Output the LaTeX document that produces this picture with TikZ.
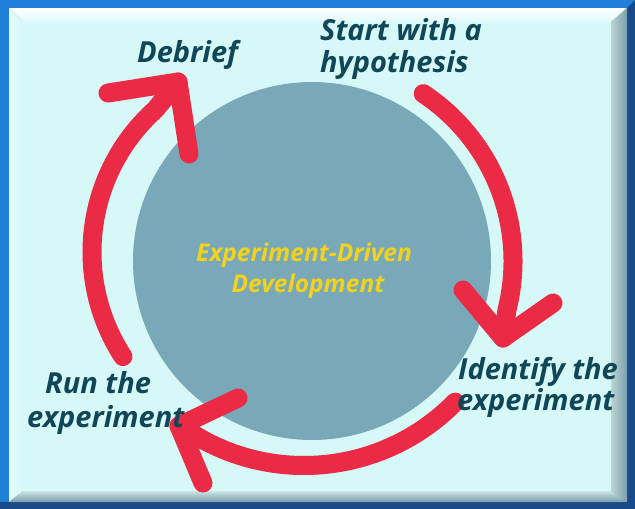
\documentclass[tikz,border=0pt]{standalone}
\usepackage{fontspec}
\setmainfont{Open Sans}
\usetikzlibrary{calc}

\definecolor{framebg}{HTML}{D6F8F7}
\definecolor{rimblue}{HTML}{1F80D8}
\definecolor{rimdark}{HTML}{174A86}
\definecolor{hub}{HTML}{79A9B9}
\definecolor{cyclered}{HTML}{EB2A45}
\definecolor{labeltext}{HTML}{0F4658}
\definecolor{hubtext}{HTML}{F3D21C}

\tikzset{
  stage/.style={font=\bfseries\itshape\fontsize{29}{32}\selectfont, text=labeltext, inner sep=0pt},
  hublabel/.style={font=\bfseries\itshape\fontsize{24.5}{30}\selectfont, text=hubtext, inner sep=0pt},
  cyclearc/.style={draw=cyclered, line width=19pt, line cap=round, line join=round},
}

\begin{document}
\begin{tikzpicture}[x=1pt,y=-1pt]
  \useasboundingbox (0,0) rectangle (635,509);

  % outer rim
  \fill[rimblue] (0,0) rectangle (635,509);
  \fill[rimdark] (635,0) -- (635,509) -- (0,509) -- (0,502) -- (627,502) -- (627,8) -- cycle;
  % bevel
  \shade[top color=white, bottom color=framebg!80!white] (9,8) -- (627,8) -- (611,22) -- (23,22) -- cycle;
  \shade[left color=framebg!60!white, right color=framebg] (9,8) -- (23,22) -- (23,491) -- (9,502) -- cycle;
  \shade[left color=framebg!70!gray, right color=hub!80!gray] (611,22) -- (627,8) -- (627,502) -- (611,491) -- cycle;
  \shade[top color=framebg!85!gray, bottom color=hub!70!gray] (23,491) -- (611,491) -- (627,502) -- (9,502) -- cycle;
  % inner panel
  \fill[framebg] (23,22) rectangle (611,491);

  % hub
  \node[circle, fill=hub, minimum size=358pt, inner sep=0pt] (hub) at (312,261) {};

  % cycle arcs
  \coordinate (c1) at (312,261);
  \coordinate (c2) at (304,253.5);
  \coordinate (c3) at (284,252);

  \coordinate (s1) at ($(c1)+(-56.4:201)$);
  \coordinate (tip1) at (503,338);
  \coordinate (l1) at (463,290);
  \coordinate (r1) at (553,303);

  \coordinate (s2) at ($(c2)+(44.5:212)$);
  \coordinate (tip2) at (179,426);
  \coordinate (l2) at (238,398);
  \coordinate (r2) at (203,483);

  \coordinate (s3) at ($(c3)+(147:192)$);
  \coordinate (tip3) at (178,82);
  \coordinate (l3) at (108,93);
  \coordinate (r3) at (189,154);

  \draw[cyclearc] (s1) arc[start angle=-56.4, end angle=14, radius=201] -- (tip1);
  \draw[cyclearc] (l1) -- (tip1) -- (r1);

  \draw[cyclearc] (s2) arc[start angle=44.5, end angle=118, radius=212] -- (tip2);
  \draw[cyclearc] (l2) -- (tip2) -- (r2);

  \draw[cyclearc] (s3) arc[start angle=147, end angle=228, radius=192] -- (tip3);
  \draw[cyclearc] (l3) -- (tip3) -- (r3);

  % stage labels
  \node[stage, anchor=base west] (debrief) at (137,62) {Debrief};
  \node[stage, anchor=base west] (hypA) at (320,40) {Start with a};
  \node[stage, anchor=base west] (hypB) at (320,72) {hypothesis};
  \node[stage, anchor=base west] (idA) at (458,379) {Identify the};
  \node[stage, anchor=base west] (idB) at (457,410) {experiment};
  \node[stage, anchor=base west] (runA) at (45,393) {Run the};
  \node[stage, anchor=base west] (runB) at (27,427) {experiment};

  % hub label
  \node[hublabel, anchor=base] (hubA) at (304,261) {Experiment-Driven};
  \node[hublabel, anchor=base] (hubB) at (308,292) {Development};
\end{tikzpicture}
\end{document}
